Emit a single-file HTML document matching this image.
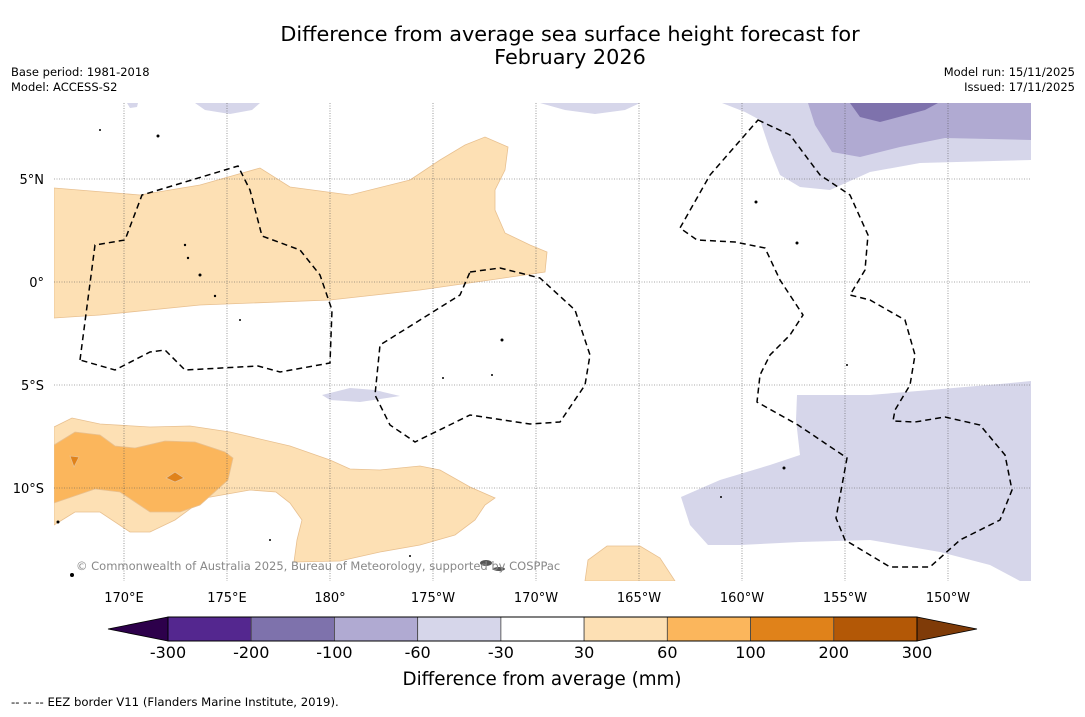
<!DOCTYPE html>
<html><head><meta charset="utf-8"><style>
body{margin:0;background:#fff;font-family:"DejaVu Sans","Liberation Sans",sans-serif;}
svg text{font-family:"DejaVu Sans","Liberation Sans",sans-serif;}
</style></head><body>
<svg id="c" width="1085" height="713" viewBox="0 0 1085 713">
<rect width="1085" height="713" fill="#fff"/>
<text x="570" y="41" font-size="20.8" text-anchor="middle" fill="#000">Difference from average sea surface height forecast for</text>
<text x="570" y="64" font-size="20.8" text-anchor="middle" fill="#000">February 2026</text>
<text x="11" y="76" font-size="11.5">Base period: 1981-2018</text>
<text x="11" y="91" font-size="11.5">Model: ACCESS-S2</text>
<text x="1075" y="76" font-size="11.5" text-anchor="end">Model run: 15/11/2025</text>
<text x="1075" y="91" font-size="11.5" text-anchor="end">Issued: 17/11/2025</text>
<defs><clipPath id="mc"><rect x="54" y="103" width="977" height="478"/></clipPath></defs>
<g clip-path="url(#mc)">
<g stroke="#e8c090" stroke-width="0.8">
<path fill="#fde0b4" d="M54,188 L140,195 L200,185 L260,168 L290,187 L350,195 L410,180 L440,160 L465,145 L485,137 L508,147 L505,170 L495,190 L495,210 L505,233 L530,245 L547,252 L545,272 L490,280 L420,290 L330,300 L200,305 L100,315 L54,318 Z"/>
<path fill="#fde0b4" d="M54,427 L72,418 L100,424 L150,427 L190,426 L230,432 L290,446 L330,460 L350,469 L380,470 L420,466 L440,470 L470,487 L495,498 L485,505 L475,520 L455,535 L420,545 L380,552 L340,561 L294,562 L297,540 L302,520 L290,503 L276,492 L250,490 L205,498 L175,520 L150,532 L130,532 L100,512 L75,512 L54,525 Z"/>
<path fill="#fbb65c" d="M54,445 L75,432 L100,435 L115,446 L135,448 L165,441 L195,442 L225,452 L233,458 L228,480 L200,505 L180,512 L150,512 L120,492 L95,489 L54,503 Z"/>
<path fill="#e0821a" d="M70,456 L79,457 L74,467 Z"/>
<path fill="#e0821a" d="M166,478 L175,472 L184,478 L175,482 Z"/>
<path fill="#fde0b4" d="M585,581 L588,560 L607,546 L640,546 L660,558 L675,581 Z"/>
</g>
<g>
<path fill="#d6d6ea" d="M722,103 L745,112 L760,120 L770,150 L780,175 L800,187 L830,190 L870,172 L920,163 L1031,160 L1031,103 Z"/>
<path fill="#b0aad2" d="M808,103 L815,125 L832,152 L860,157 L900,147 L945,138 L1031,140 L1031,103 Z"/>
<path fill="#7e72ac" d="M850,103 L860,117 L880,122 L925,110 L938,103 Z"/>
<path fill="#d6d6ea" d="M540,103 L565,110 L595,114 L625,110 L640,103 Z"/>
<path fill="#d6d6ea" d="M195,103 L205,110 L230,114 L252,110 L260,103 Z"/>
<path fill="#d6d6ea" d="M127,103 L130,108 L137,107 L138,103 Z"/>
<path fill="#d6d6ea" d="M322,395 L350,388 L375,390 L400,396 L360,402 L330,400 Z"/>
<path fill="#d6d6ea" d="M797,395 L870,395 L930,390 L1000,384 L1031,381 L1031,581 L1020,581 L990,565 L940,552 L870,540 L800,542 L740,545 L708,545 L690,525 L681,497 L720,480 L770,465 L800,455 L796,420 Z"/>
</g>
<g id="grid" stroke="#555" stroke-width="0.6" stroke-dasharray="1,1.5"></g>
<g fill="none" stroke="#000" stroke-width="1.5" stroke-dasharray="6,4">
<path d="M80,360 L95,245 L125,240 L142,195 L238,166 L250,190 L262,236 L300,250 L320,275 L332,310 L330,363 L280,372 L258,366 L185,370 L165,350 L150,352 L115,370 Z"/>
<path d="M470,272 L500,268 L540,278 L575,310 L590,355 L585,385 L560,422 L530,424 L470,415 L415,442 L390,425 L375,395 L380,345 L420,320 L460,295 Z"/>
<path d="M758,120 L790,135 L820,175 L850,195 L868,235 L865,270 L850,295 L870,300 L905,320 L915,355 L910,385 L895,410 L893,421 L915,422 L945,417 L980,425 L1005,455 L1012,490 L1000,520 L960,540 L930,567 L890,567 L845,540 L836,518 L847,458 L798,425 L757,402 L760,375 L770,355 L790,335 L803,315 L780,280 L765,248 L735,242 L697,240 L680,228 L710,175 Z"/>
</g>
<g fill="#000">
<circle cx="185" cy="245" r="1.2"/><circle cx="188" cy="258" r="1.2"/><circle cx="200" cy="275" r="1.5"/><circle cx="215" cy="296" r="1.2"/><circle cx="240" cy="320" r="1"/><circle cx="158" cy="136" r="1.5"/><circle cx="100" cy="130" r="1"/><circle cx="502" cy="340" r="1.5"/><circle cx="492" cy="375" r="1"/><circle cx="443" cy="378" r="1"/><circle cx="756" cy="202" r="1.5"/><circle cx="797" cy="243" r="1.5"/><circle cx="847" cy="365" r="1"/><circle cx="784" cy="468" r="1.5"/><circle cx="721" cy="497" r="1"/><circle cx="58" cy="522" r="1.5"/><circle cx="72" cy="575" r="2"/><circle cx="410" cy="556" r="1"/><ellipse cx="486" cy="563" rx="6" ry="3" fill="#555"/><ellipse cx="499" cy="569" rx="6" ry="2" fill="#555"/><circle cx="270" cy="540" r="1"/>
</g>
<text x="76" y="570" font-size="11.5" fill="#888">© Commonwealth of Australia 2025, Bureau of Meteorology, supported by COSPPac</text>
</g>
<g id="axlabels" font-size="13" fill="#000"></g>
<g id="cbar"></g>
<text x="542" y="685" font-size="18.3" text-anchor="middle">Difference from average (mm)</text>
<text x="11" y="706" font-size="11.7">--  --  -- EEZ border V11 (Flanders Marine Institute, 2019).</text>
</svg>
<script>
const lonTicks=[170,175,180,-175,-170,-165,-160,-155,-150];
const lonLabels=["170°E","175°E","180°","175°W","170°W","165°W","160°W","155°W","150°W"];
const latTicks=[5,0,-5,-10];
const latLabels=["5°N","0°","5°S","10°S"];
const levels=[-300,-200,-100,-60,-30,30,60,100,200,300];
const colors=["#54278f","#7e72ac","#b0aad2","#d6d6ea","#ffffff","#fde0b4","#fbb65c","#e0821a","#b35806"];
const underColor="#2d004b", overColor="#7f3b08";
const NS="http://www.w3.org/2000/svg";
function xLon(l){const e=l<0?l+360:l;return 124+(e-170)*20.6;}
function yLat(a){return 282-a*20.6;}
const grid=document.getElementById('grid'),ax=document.getElementById('axlabels'),cb=document.getElementById('cbar');
function mk(t,p,a){const e=document.createElementNS(NS,t);for(const k in a)e.setAttribute(k,a[k]);p.appendChild(e);return e;}
lonTicks.forEach((l,i)=>{const x=xLon(l);
const g=mk('line',grid,{x1:x,x2:x,y1:103,y2:581});


const t=mk('text',ax,{x:x,y:602,'text-anchor':'middle'});t.textContent=lonLabels[i];

});
latTicks.forEach((a,i)=>{const y=yLat(a);
const g=mk('line',grid,{x1:54,x2:1031,y1:y,y2:y});


const t=mk('text',ax,{x:44,y:y+5,'text-anchor':'end'});t.textContent=latLabels[i];

});
const cx0=168,cx1=917,cy=617,ch=24,n=colors.length,w=(cx1-cx0)/n;
const lt=mk('polygon',cb,{points:`108,${cy+ch/2} ${cx0},${cy} ${cx0},${cy+ch}`,fill:underColor,stroke:'#000','stroke-width':0.8});


const rt=mk('polygon',cb,{points:`977,${cy+ch/2} ${cx1},${cy} ${cx1},${cy+ch}`,fill:overColor,stroke:'#000','stroke-width':0.8});


colors.forEach((c,i)=>{const r=mk('rect',cb,{x:cx0+i*w,y:cy,width:w,height:ch,fill:c,stroke:'#444','stroke-width':0.8});

});
mk('rect',cb,{x:cx0,y:cy,width:cx1-cx0,height:ch,fill:'none',stroke:'#000','stroke-width':1});
levels.forEach((v,i)=>{const t=mk('text',cb,{x:cx0+i*w,y:658,'font-size':16,'text-anchor':'middle'});t.textContent=v;

});
</script>
</body></html>
